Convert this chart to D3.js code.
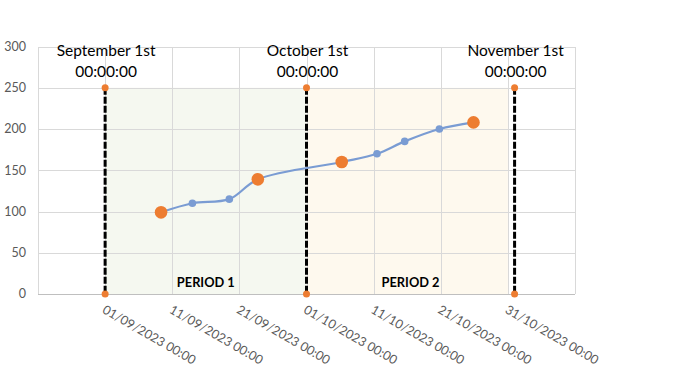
<!DOCTYPE html>
<html>
<head>
<meta charset="utf-8">
<script src="https://cdn.jsdelivr.net/npm/d3@7"></script>
<style>
  body { margin: 0; background: #fff; }
  text { font-family: Lato, "Open Sans", sans-serif; }
</style>
</head>
<body>
<div id="drawing"></div>
<script>
"use strict"

/**** DATA ****/
let pointDates = ["09/09/2023 08:00", "14/09/2023 00:00", "19/09/2023 12:00", "23/09/2023 18:00",
  "06/10/2023 06:00", "11/10/2023 12:00", "15/10/2023 15:00", "20/10/2023 19:00", "25/10/2023 21:00"]
let pointValues = [99, 110, 115, 139, 160, 170, 185, 200, 208]
let pointIsKey = [true, false, false, true, true, false, false, false, true]

let boundaryDates = ["01/09/2023 00:00", "01/10/2023 00:00", "01/11/2023 00:00"]
let boundaryLabels = ["September 1st", "October 1st", "November 1st"]
let boundaryTimes = ["00:00:00", "00:00:00", "00:00:00"]
let boundaryTop = 250

let periodNames = ["PERIOD 1", "PERIOD 2"]
let periodStarts = ["01/09/2023 00:00", "01/10/2023 00:00"]
let periodEnds = ["01/10/2023 00:00", "31/10/2023 00:00"]
let periodColors = ["#F5F8F0", "#FEF9EE"]

let xTickLabels = ["01/09/2023 00:00", "11/09/2023 00:00", "21/09/2023 00:00", "01/10/2023 00:00",
  "11/10/2023 00:00", "21/10/2023 00:00", "31/10/2023 00:00"]
let xGridDates = ["22/08/2023 00:00", "01/09/2023 00:00", "11/09/2023 00:00", "21/09/2023 00:00",
  "01/10/2023 00:00", "11/10/2023 00:00", "21/10/2023 00:00", "31/10/2023 00:00", "10/11/2023 00:00"]
let yTicks = [0, 50, 100, 150, 200, 250, 300]

/**** CONFIG ****/
let svgWidth = 674
let svgHeight = 376
let leftMargin = 38
let rightMargin = 99
let topMargin = 46.5
let bottomMargin = 82

let parse = d3.timeParse("%d/%m/%Y %H:%M")

let svg = d3.select("#drawing")
  .append("svg")
  .attr("width", svgWidth)
  .attr("height", svgHeight)

/**** SCALES ****/
let xScale = d3.scaleTime()
  .domain([parse(xGridDates[0]), parse(xGridDates[xGridDates.length - 1])])
  .range([leftMargin, svgWidth - rightMargin])

let yScale = d3.scaleLinear()
  .domain([0, 300])
  .range([svgHeight - bottomMargin, topMargin])

/**** PERIOD SHADING ****/
svg.selectAll("rect.period")
  .data(periodNames)
  .join("rect")
  .attr("class", "period")
  .attr("x", (d, i) => xScale(parse(periodStarts[i])))
  .attr("y", yScale(boundaryTop))
  .attr("width", (d, i) => xScale(parse(periodEnds[i])) - xScale(parse(periodStarts[i])))
  .attr("height", yScale(0) - yScale(boundaryTop))
  .attr("fill", (d, i) => periodColors[i])

/**** GRID ****/
svg.append("g")
  .attr("transform", `translate(${leftMargin},0)`)
  .call(d3.axisLeft(yScale).tickValues(yTicks).tickSize(-(svgWidth - leftMargin - rightMargin)).tickFormat(""))
  .call(g => g.select(".domain").remove())
  .call(g => g.selectAll("line").attr("stroke", "#D9D9D9").attr("shape-rendering", "crispEdges"))

svg.append("g")
  .attr("transform", `translate(0,${topMargin})`)
  .call(d3.axisTop(xScale).tickValues(xGridDates.map(parse)).tickSize(-(yScale(0) - topMargin)).tickFormat(""))
  .call(g => g.select(".domain").remove())
  .call(g => g.selectAll("line").attr("stroke", "#D9D9D9").attr("shape-rendering", "crispEdges"))

svg.append("line")
  .attr("x1", leftMargin)
  .attr("x2", svgWidth - rightMargin)
  .attr("y1", yScale(0))
  .attr("y2", yScale(0))
  .attr("stroke", "#BFBFBF")
  .attr("shape-rendering", "crispEdges")

/**** Y AXIS LABELS ****/
svg.selectAll("text.ytick")
  .data(yTicks)
  .join("text")
  .attr("class", "ytick")
  .attr("x", 26)
  .attr("y", d => yScale(d))
  .attr("dy", "0.35em")
  .attr("text-anchor", "end")
  .attr("fill", "#595959")
  .style("font-size", "12.5px")
  .text(d => d)

/**** X AXIS LABELS ****/
svg.selectAll("text.xtick")
  .data(xTickLabels)
  .join("text")
  .attr("class", "xtick")
  .attr("transform", d => `translate(${xScale(parse(d)) + 1},${yScale(0) + 10}) rotate(30)`)
  .attr("dy", "0.75em")
  .attr("fill", "#595959")
  .style("font-size", "12.6px")
  .text(d => d)

/**** PERIOD LABELS ****/
svg.selectAll("text.periodLabel")
  .data(periodNames)
  .join("text")
  .attr("class", "periodLabel")
  .attr("x", (d, i) => (xScale(parse(boundaryDates[i])) + xScale(parse(boundaryDates[i + 1]))) / 2)
  .attr("y", yScale(0) - 7)
  .attr("text-anchor", "middle")
  .attr("font-weight", "bold")
  .style("font-size", "12.8px")
  .text(d => d)

/**** BOUNDARY LINES ****/
svg.selectAll("line.boundary")
  .data(boundaryDates)
  .join("line")
  .attr("class", "boundary")
  .attr("x1", d => xScale(parse(d)))
  .attr("x2", d => xScale(parse(d)))
  .attr("y1", yScale(boundaryTop))
  .attr("y2", yScale(0))
  .attr("stroke", "black")
  .attr("stroke-width", 3)
  .attr("stroke-dasharray", "7,2")

svg.selectAll("circle.boundTop")
  .data(boundaryDates)
  .join("circle")
  .attr("class", "boundTop")
  .attr("cx", d => xScale(parse(d)))
  .attr("cy", yScale(boundaryTop))
  .attr("r", 3.5)
  .attr("fill", "#ED7D31")

svg.selectAll("circle.boundBottom")
  .data(boundaryDates)
  .join("circle")
  .attr("class", "boundBottom")
  .attr("cx", d => xScale(parse(d)))
  .attr("cy", yScale(0))
  .attr("r", 3.5)
  .attr("fill", "#ED7D31")

let labels = svg.selectAll("text.boundLabel")
  .data(boundaryLabels)
  .join("text")
  .attr("class", "boundLabel")
  .attr("text-anchor", "middle")
  .attr("fill", "#000")
  .style("font-size", "15.5px")

labels.append("tspan")
  .attr("x", (d, i) => xScale(parse(boundaryDates[i])) + 1)
  .attr("y", 55.5)
  .text(d => d)

labels.append("tspan")
  .attr("x", (d, i) => xScale(parse(boundaryDates[i])) + 1)
  .attr("y", 76.5)
  .text((d, i) => boundaryTimes[i])

/**** SERIES ****/
let points = pointDates.map((d, i) => ({date: parse(d), value: pointValues[i], key: pointIsKey[i]}))

let line = d3.line()
  .x(d => xScale(d.date))
  .y(d => yScale(d.value))
  .curve(d3.curveCatmullRom.alpha(0.5))

svg.append("path")
  .datum(points)
  .attr("d", line)
  .attr("fill", "none")
  .attr("stroke", "#7A9CD3")
  .attr("stroke-width", 2.2)

svg.selectAll("circle.point")
  .data(points)
  .join("circle")
  .attr("class", "point")
  .attr("cx", d => xScale(d.date))
  .attr("cy", d => yScale(d.value))
  .attr("r", d => d.key ? 6.3 : 3.8)
  .attr("fill", d => d.key ? "#ED7D31" : "#7A9CD3")
</script>
</body>
</html>
